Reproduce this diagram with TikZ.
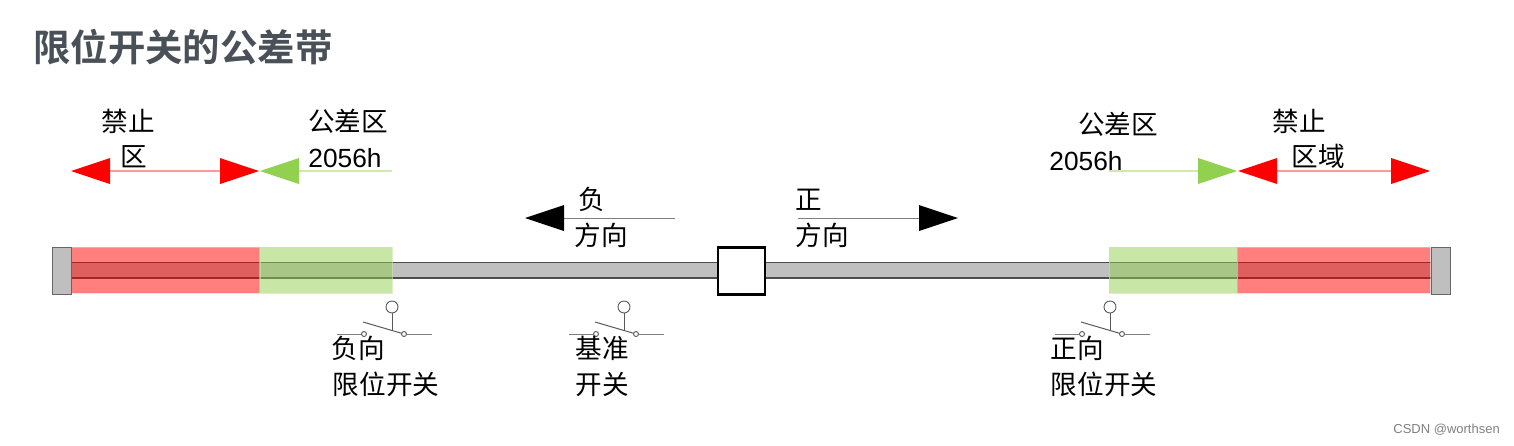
\documentclass[tikz,border=0pt]{standalone}
\usepackage{fontspec}
\usetikzlibrary{arrows.meta}
\setmainfont{Liberation Sans}
\newfontfamily\cjk{Noto Sans CJK SC}[BoldFont={Noto Sans CJK SC Bold}]
\definecolor{barg}{HTML}{BFBFBF}
\definecolor{grn}{HTML}{92D050}
\definecolor{titlec}{HTML}{4A5058}
\tikzset{
  lab/.style={inner sep=0pt,yshift=0.3pt,font=\fontsize{26.6}{26.6}\selectfont\cjk,text=black},
  numlab/.style={inner sep=0pt,font=\fontsize{26.3}{26.3}\selectfont,text=black},
  capbox/.style={draw=black!60,line width=1.2pt,fill=barg},
  redzone/.style={fill=red,fill opacity=.5,draw=red!25,draw opacity=.6,line width=.8pt},
  grnzone/.style={fill=grn,fill opacity=.5,draw=grn!50,draw opacity=.6,line width=.8pt},
  redarrow/.style={draw=red!40,line width=1.3pt},
  grnarrow/.style={draw=grn!45,line width=1.3pt},
  blkarrow/.style={draw=black!50,line width=1pt},
  redhead/.style={fill=red,draw=none},
  grnhead/.style={fill=grn,draw=none},
  blkhead/.style={fill=black,draw=none},
  swline/.style={draw=black!50,line width=1pt},
  swstem/.style={draw=black!65,line width=1pt},
  swknob/.style={draw=black!65,fill=white,line width=.9pt},
}
\newcommand{\limitswitch}[2]{%
  \coordinate (#1k) at (#2,307);
  \coordinate (#1s) at (#2,330);
  \coordinate (#1la) at (#2-55,334);
  \coordinate (#1lb) at (#2-28,334);
  \coordinate (#1ra) at (#2+12,334);
  \coordinate (#1rb) at (#2+40,334);
  \coordinate (#1t) at (#2-29,322);
  \draw[swline] (#1la) -- (#1lb);
  \draw[swline] (#1ra) -- (#1rb);
  \draw[swstem] (#1k) -- (#1s);
  \draw[swstem] (#1t) -- (#1ra);
  \node[swknob,circle,minimum size=12pt,inner sep=0pt] at (#1k) {};
  \node[swknob,circle,minimum size=5pt,inner sep=0pt] at (#1lb) {};
  \node[swknob,circle,minimum size=5pt,inner sep=0pt] at (#1ra) {};
}
\newcommand{\heado}[4]{\fill[#4] (#1,#2) -- (#1+#3*39,#2-13) -- (#1+#3*39,#2+13) -- cycle;}
\begin{document}
\begin{tikzpicture}[x=1pt,y=-1pt]
\useasboundingbox[fill=white] (0,0) rectangle (1514,445);
\node[inner sep=0pt,anchor=west,font=\fontsize{37.4}{37.4}\selectfont\cjk\bfseries,text=titlec] (title) at (33,47) {限位开关的公差带};
% bar
\fill[barg] (52,262.3) rectangle (1450,278);
\draw[black!70,line width=1.1pt] (52,262.3) -- (1450,262.3);
\draw[black!70,line width=1.1pt] (52,278) -- (1450,278);
\draw[black!70,line width=1.1pt] (1450,262.3) -- (1450,278);
% zones
\path[redzone] (71,247) rectangle (259.5,293);
\path[grnzone] (260,247) rectangle (392,293);
\path[grnzone] (1109,247) rectangle (1237,293);
\path[redzone] (1237,247) rectangle (1430,293);
% end caps
\node[capbox,minimum width=19pt,minimum height=47pt,inner sep=0pt,anchor=north west] (capl) at (51.5,246.5) {};
\node[capbox,minimum width=19pt,minimum height=47pt,inner sep=0pt,anchor=north west] (capr) at (1430.5,246.5) {};
% carriage
\node[draw=black,fill=white,line width=2.2pt,minimum width=47pt,minimum height=47pt,inner sep=0pt,anchor=north west] (cart) at (716.8,246.3) {};
% arrows
\coordinate (ra) at (110,171); \coordinate (rb) at (220,171);
\draw[redarrow] (ra) -- (rb);
\heado{71}{171}{1}{redhead}
\heado{259}{171}{-1}{redhead}
\coordinate (ga) at (299,171); \coordinate (gb) at (392,171);
\draw[grnarrow] (ga) -- (gb);
\heado{260}{171}{1}{grnhead}
\coordinate (gc) at (1109,171); \coordinate (gd) at (1198,171);
\draw[grnarrow] (gc) -- (gd);
\heado{1237}{171}{-1}{grnhead}
\coordinate (rc) at (1277,171); \coordinate (rd) at (1392,171);
\draw[redarrow] (rc) -- (rd);
\heado{1238}{171}{1}{redhead}
\heado{1430}{171}{-1}{redhead}
\coordinate (ba) at (563,218); \coordinate (bb) at (675,218);
\draw[blkarrow] (ba) -- (bb);
\heado{525}{218}{1}{blkhead}
\coordinate (bc) at (798,218); \coordinate (bd) at (919,218);
\draw[blkarrow] (bc) -- (bd);
\heado{958}{218}{-1}{blkhead}
% switches
\limitswitch{a}{392}
\limitswitch{b}{624}
\limitswitch{c}{1110}
% labels
\node[lab] (t1) at (128,122) {禁止};
\node[lab] (t2) at (134,157) {区};
\node[lab] (t3) at (348,122) {公差区};
\node[numlab] (t4) at (345,158) {2056h};
\node[lab] (t5) at (1118,125) {公差区};
\node[numlab] (t6) at (1086,161) {2056h};
\node[lab] (t7) at (1299,122) {禁止};
\node[lab] (t8) at (1318,157) {区域};
\node[lab] (t9) at (592,200) {负};
\node[lab] (t10) at (601,236) {方向};
\node[lab] (t11) at (809,200) {正};
\node[lab] (t12) at (822,236) {方向};
\node[lab] (t13) at (358,349) {负向};
\node[lab] (t14) at (386,385) {限位开关};
\node[lab] (t15) at (602,349) {基准};
\node[lab] (t16) at (602,385) {开关};
\node[lab] (t17) at (1077,349) {正向};
\node[lab] (t18) at (1104,385) {限位开关};
\node[inner sep=0pt,anchor=east,font=\fontsize{13}{13}\selectfont,text=black!50] (wm) at (1500,430) {CSDN @worthsen};
\end{tikzpicture}
\end{document}
